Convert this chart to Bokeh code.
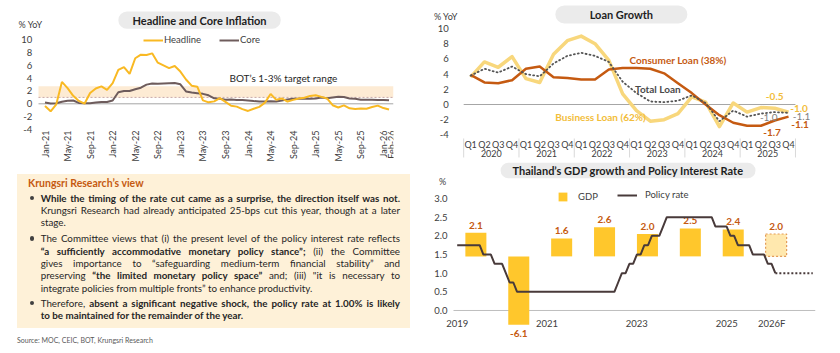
import math
from bokeh.plotting import figure
from bokeh.models import (Range1d, BoxAnnotation, Legend, LegendItem, Div)
from bokeh.layouts import row, column
from bokeh.core.properties import value
from bokeh.embed import file_html
from bokeh.resources import INLINE

FONT = "Lato"
TXT = "#404040"

# ---------------- data: headline & core inflation (% YoY, monthly Jan-21 .. Feb-26)
headline = [-0.34, -1.17, -0.08, 3.41, 2.44, 1.25, 0.45, 0.02, 1.68, 2.38, 2.71, 2.17,
            3.23, 5.28, 5.73, 4.65, 7.10, 7.66, 7.61, 7.86, 6.41, 5.98, 5.55, 5.89,
            5.02, 3.79, 2.83, 2.67, 0.53, 0.23, 0.38, 0.88, 0.30, -0.31, -0.44, -0.83,
            -1.11, -0.77, -0.47, 0.19, 1.54, 0.62, 0.83, 0.35, 0.61, 0.83, 0.95, 1.23,
            1.32, 1.08, 0.84, -0.22, -0.57, -0.25, -0.70, -0.79, -0.72, -0.76, -0.49, -0.28,
            -0.66, -0.90]
core = [0.21, 0.04, 0.08, 0.31, 0.49, 0.52, 0.14, 0.07, 0.10, 0.21, 0.29, 0.29,
        0.52, 1.80, 2.00, 2.00, 2.28, 2.51, 2.99, 3.15, 3.12, 3.17, 3.22, 3.23,
        3.04, 1.93, 1.75, 1.66, 1.55, 1.32, 0.86, 0.79, 0.63, 0.66, 0.58, 0.58,
        0.52, 0.43, 0.37, 0.37, 0.39, 0.36, 0.52, 0.69, 0.77, 0.77, 0.80, 0.79,
        0.83, 0.99, 0.86, 0.98, 1.09, 1.06, 0.84, 0.79, 0.62, 0.63, 0.65, 0.60,
        0.60, 0.55]
infl_tick_pos = [0, 4, 8, 12, 16, 20, 24, 28, 32, 36, 40, 44, 48, 52, 56, 60, 61]
infl_tick_labels = ["Jan-21", "May-21", "Sep-21", "Jan-22", "May-22", "Sep-22", "Jan-23",
                    "May-23", "Sep-23", "Jan-24", "May-24", "Sep-24", "Jan-25", "May-25",
                    "Sep-25", "Jan-26", "Feb-26"]
infl_y_ticks = [-4, -2, 0, 2, 4, 6, 8, 10]
target_low = 1.0
target_high = 2.75

# ---------------- data: loan growth (% YoY, quarterly Q1-2020 .. Q4-2025)
loan_quarters = ["Q1", "Q2", "Q3", "Q4", "Q1", "Q2", "Q3", "Q4", "Q1", "Q2", "Q3", "Q4",
                 "Q1", "Q2", "Q3", "Q4", "Q1", "Q2", "Q3", "Q4", "Q1", "Q2", "Q3", "Q4"]
loan_years = ["2020", "2021", "2022", "2023", "2024", "2025"]
business_loan = [3.6, 5.6, 4.9, 6.3, 3.4, 2.9, 6.6, 8.4, 9.0, 8.0, 5.8, 1.4,
                 -0.8, -2.2, -2.0, -1.2, 1.0, 0.3, -2.9, 0.2, -1.0, -0.4, -0.5, -1.0]
consumer_loan = [3.9, 2.9, 2.8, 3.2, 4.7, 5.0, 3.6, 3.5, 3.3, 3.3, 4.6, 4.8,
                 4.8, 4.7, 4.1, 2.8, 1.5, 0.0, -1.4, -2.4, -2.8, -2.8, -2.1, -1.6]
total_loan = [3.8, 4.7, 4.2, 5.0, 4.0, 3.7, 5.4, 6.4, 6.8, 6.4, 5.6, 3.0,
              1.5, 0.4, 0.3, 0.5, 1.2, 0.2, -2.2, -0.8, -1.6, -1.2, -1.0, -1.1]
loan_y_ticks = [-4, -2, 0, 2, 4, 6, 8, 10]

# ---------------- data: GDP growth (annual) and policy rate (monthly Jan-2019 ..)
gdp_years = ["2019", "2020", "2021", "2022", "2023", "2024", "2025", "2026F"]
gdp_growth = [2.1, -6.1, 1.6, 2.6, 2.0, 2.5, 2.4, 2.0]
gdp_is_forecast = [False, False, False, False, False, False, False, True]
policy_rate = [1.75, 1.75, 1.75, 1.75, 1.75, 1.75, 1.75, 1.50, 1.50, 1.50, 1.25, 1.25,
               1.25, 1.00, 0.75, 0.75, 0.50, 0.50, 0.50, 0.50, 0.50, 0.50, 0.50, 0.50,
               0.50, 0.50, 0.50, 0.50, 0.50, 0.50, 0.50, 0.50, 0.50, 0.50, 0.50, 0.50,
               0.50, 0.50, 0.50, 0.50, 0.50, 0.50, 0.50, 0.75, 1.00, 1.00, 1.25, 1.25,
               1.50, 1.50, 1.75, 1.75, 2.00, 2.00, 2.00, 2.25, 2.50, 2.50, 2.50, 2.50,
               2.50, 2.50, 2.50, 2.50, 2.50, 2.50, 2.50, 2.50, 2.50, 2.25, 2.25, 2.25,
               2.25, 2.00, 2.00, 1.75, 1.75, 1.75, 1.75, 1.50, 1.50, 1.50, 1.50, 1.25,
               1.25, 1.00]
policy_rate_forecast = [1.00, 1.00, 1.00, 1.00, 1.00, 1.00, 1.00, 1.00, 1.00, 1.00, 1.00]
gdp_axis_labels = ["2019", "2021", "2023", "2025", "2026F"]
gdp_axis_month = [0, 24, 48, 72, 84]
rate_y_ticks = [0.0, 0.5, 1.0, 1.5, 2.0, 2.5, 3.0]

# ---------------- colours
C_HEAD = "#F9B923"
C_CORE = "#6E5C5C"
C_BAND = "#FDEBD4"
C_BUS = "#F8D77C"
C_BUS_TXT = "#F2BD3A"
C_CONS = "#C55A11"
C_TOT = "#555555"
C_GDP = "#FFC72C"
C_RATE = "#483A3A"
C_PILL = "#EBEBEB"


def base_fig(w, h, xr, yr, right, top):
    p = figure(width=w, height=h, x_range=Range1d(*xr), y_range=Range1d(*yr),
               output_backend="svg", toolbar_location=None, title=None,
               min_border_left=0, min_border_right=right,
               min_border_top=top, min_border_bottom=0,
               x_axis_location=None, y_axis_location=None,
               outline_line_color=None, background_fill_color="white",
               border_fill_color="white")
    p.grid.visible = False
    return p


def y_tick_labels(p, x, ticks, labels, dx):
    p.text(x=[x] * len(ticks), y=ticks, text=labels, x_offset=dx, text_align="right",
           text_baseline="middle", text_font=value(FONT), text_font_size="9.5px",
           text_color=TXT)


def pill(p, x0, x1, y0, y1, text, size):
    p.quad(left=[x0], right=[x1], bottom=[y0], top=[y1], fill_color=C_PILL,
           line_color=None, border_radius=9)
    p.text(x=[(x0 + x1) / 2], y=[(y0 + y1) / 2], text=[text], text_align="center",
           text_baseline="middle", text_font=value(FONT), text_font_style="bold",
           text_font_size=size, text_color="#1E1E1E")


def free_text(p, x, y, text, color, size="9.5px", bold=False, align="left", **kw):
    p.text(x=[x], y=[y], text=[text], text_align=align, text_baseline="middle",
           text_font=value(FONT), text_font_style="bold" if bold else "normal",
           text_font_size=size, text_color=color, **kw)


# =============== 1. Headline and core inflation ===============
months = list(range(len(headline)))
infl_x0 = -1.152          # left edge of the plotting area (data units)
p1 = base_fig(420, 172, (-7.89, 61.79), (-10.7, 15.47), 27, 4)

p1.add_layout(BoxAnnotation(left=infl_x0, bottom=target_low, top=target_high,
                            fill_color=C_BAND, fill_alpha=1, line_color=None,
                            level="underlay"))
p1.segment(x0=[infl_x0], x1=[p1.x_range.end], y0=[0], y1=[0], line_color="#A6A6A6",
           line_width=1)
p1.segment(x0=[infl_x0], x1=[p1.x_range.end], y0=[target_low], y1=[target_low],
           line_color="#C8A8A8", line_width=1, line_dash="2 2")
r_core = p1.line(months, core, line_color=C_CORE, line_width=2)
r_head = p1.line(months, headline, line_color=C_HEAD, line_width=2)
y_tick_labels(p1, infl_x0, infl_y_ticks, [str(t) for t in infl_y_ticks], -6.3)
# rotated month labels; a label that directly follows its neighbour is nudged right
lab_dx = [0] + [2.5 if b - a == 1 else 0 for a, b in zip(infl_tick_pos, infl_tick_pos[1:])]
p1.text(x=infl_tick_pos, y=[-4.16] * len(infl_tick_pos), text=infl_tick_labels,
        x_offset=lab_dx, angle=math.pi / 2, text_align="right", text_baseline="middle",
        text_font=value(FONT), text_font_size="9px", text_color=TXT)
pill(p1, 13.0, 41.8, 11.68, 14.38, "Headline and Core Inflation", "11px")
free_text(p1, 32.7, 4.05, "BOT\u2019s 1-3% target range", "#262626", "10px")
free_text(p1, infl_x0, 12.35, "% YoY", TXT, "9px", x_offset=-20)
leg1 = Legend(items=[LegendItem(label="Headline", renderers=[r_head]),
                     LegendItem(label="Core", renderers=[r_core])],
              orientation="horizontal", location=(143, 127), glyph_width=20,
              glyph_height=10, label_height=10, label_standoff=1, spacing=18,
              padding=0, margin=0, border_line_color=None, background_fill_alpha=0,
              label_text_font=FONT, label_text_font_size="9.5px", label_text_color=TXT)
p1.add_layout(leg1)

# =============== 2. Text box ===============
def line(html, last=False):
    al = "left" if last else "justify"
    return (f'<div style="text-align:justify;text-align-last:{al};white-space:normal;">'
            f'{html}</div>')


def para(top, lines):
    body = "".join(line(t, i == len(lines) - 1) for i, t in enumerate(lines))
    return (f'<div style="position:absolute;left:29.5px;top:{top + 4.2}px;width:4.5px;'
            f'height:4.5px;border-radius:50%;background:#404040;"></div>'
            f'<div style="position:absolute;left:40.7px;top:{top}px;width:359.3px;'
            f'font-size:9.8px;line-height:12.4px;">{body}</div>')


p1_lines = ["<b>While the timing of the rate cut came as a surprise, the direction itself was not.</b>",
            "Krungsri Research had already anticipated 25-bps cut this year, though at a later",
            "stage."]
p2_lines = ["The Committee views that (i) the present level of the policy interest rate reflects",
            "<b>\u201ca sufficiently accommodative monetary policy stance\u201d;</b> (ii) the Committee",
            "gives importance to \u201csafeguarding medium-term financial stability\u201d and",
            "preserving <b>\u201cthe limited monetary policy space\u201d</b> and; (iii) \"it is necessary to",
            "integrate policies from multiple fronts\u201d to enhance productivity."]
p3_lines = ["Therefore, <b>absent a significant negative shock, the policy rate at 1.00% is likely</b>",
            "<b>to be maintained for the remainder of the year.</b>"]

html = ('<div style="position:relative;width:420px;height:181px;font-family:Lato,sans-serif;'
        'color:#262626;">'
        '<div style="position:absolute;left:17px;top:2px;width:393px;height:154px;'
        'background:#FEF1D8;"></div>'
        '<div style="position:absolute;left:28px;top:4.5px;font-size:10.5px;line-height:12.4px;'
        'font-weight:bold;color:#C55A11;">Krungsri Research\u2019s view</div>'
        + para(19.5, p1_lines) + para(60.1, p2_lines) + para(124.5, p3_lines) +
        '<div style="position:absolute;left:17px;top:163.5px;font-size:7px;line-height:9px;'
        'color:#595959;">Source: MOC, CEIC, BOT, Krungsri Research</div>'
        '</div>')
box = Div(text=html, width=420, height=181, margin=0)

# =============== 3. Loan growth ===============
qx = list(range(len(business_loan)))
p2 = base_fig(420, 158, (-3.624, 24.95), (-7.105, 13.684), 10, 0)
loan_x0 = -0.5
p2.segment(x0=[loan_x0], x1=[len(qx) - 0.5], y0=[0], y1=[0], line_color="#A6A6A6",
           line_width=1)
p2.line(qx, business_loan, line_color=C_BUS, line_width=3.5, line_join="round")
p2.line(qx, consumer_loan, line_color=C_CONS, line_width=2.5, line_join="round")
p2.line(qx, total_loan, line_color=C_TOT, line_width=1.8, line_dash="1 3", line_cap="round")
y_tick_labels(p2, loan_x0, loan_y_ticks, [str(t) for t in loan_y_ticks], -15)
p2.text(x=qx, y=[-5.26] * len(qx), text=loan_quarters, text_align="center",
        text_baseline="middle", text_font=value(FONT), text_font_size="9px", text_color=TXT)
yx = [4 * k + 1.5 for k in range(len(loan_years))]
p2.text(x=yx, y=[-6.45] * len(yx), text=loan_years, text_align="center",
        text_baseline="middle", text_font=value(FONT), text_font_size="9px", text_color=TXT)
sx = [4 * k - 0.5 for k in range(len(loan_years) + 1)]
p2.segment(x0=sx, x1=sx, y0=[-4.47] * len(sx), y1=[-6.97] * len(sx), line_color="#D9D9D9",
           line_width=1)
pill(p2, 6.13, 15.68, 10.66, 13.03, "Loan Growth", "11px")
free_text(p2, loan_x0, 11.58, "% YoY", TXT, "9px", x_offset=-29.8)
free_text(p2, 11.5, 5.9, "Consumer Loan (38%)", C_CONS, "10px", True)
free_text(p2, 11.9, 2.1, "Total Loan", "#4A4A4A", "10px", True)
free_text(p2, 6.13, -1.7, "Business Loan (62%)", C_BUS_TXT, "10px", True)
n = len(qx) - 1
vlab = [(n - 1, business_loan[n - 1], 0, -12, C_BUS_TXT, True),
        (n, business_loan[n], 10.5, -3.5, C_BUS_TXT, True),
        (n - 1, total_loan[n - 1], -6, 5, "#7F7F7F", False),
        (n, total_loan[n], 13, 3.3, "#7F7F7F", False),
        (n - 1, consumer_loan[n - 1], -2.7, 11.7, C_CONS, True),
        (n, consumer_loan[n], 11.5, 7.8, C_CONS, True)]
lab_text = ["-0.5", "-1.0", "-1.0", "-1.1", "-1.7", "-1.1"]
for (xi, yv, dx, dy, col, b), t in zip(vlab, lab_text):
    p2.text(x=[xi], y=[yv], text=[t], x_offset=dx, y_offset=dy, text_align="center",
            text_baseline="middle", text_font=value(FONT),
            text_font_style="bold" if b else "normal", text_font_size="10px",
            text_color=col)

# =============== 4. GDP growth and policy rate ===============
p3 = base_fig(420, 195, (-9.805, 95.73), (-1.152, 4.072), 25, 0)
gdp_x0 = -0.99
p3.extra_x_ranges = {"bars": Range1d(-1.291, 7.918)}
p3.extra_y_ranges = {"gdp": Range1d(-8.673, 8.74)}
p3.segment(x0=[gdp_x0], x1=[p3.x_range.end], y0=[0], y1=[0], line_color="#BFBFBF",
           line_width=1)
bi = list(range(len(gdp_growth)))
act_i = [i for i in bi if not gdp_is_forecast[i]]
fc_i = [i for i in bi if gdp_is_forecast[i]]
r_gdp = p3.vbar(x=act_i, top=[gdp_growth[i] for i in act_i], bottom=0, width=0.49,
                fill_color=C_GDP, line_color=None, x_range_name="bars", y_range_name="gdp")
p3.vbar(x=fc_i, top=[gdp_growth[i] for i in fc_i], bottom=0, width=0.49,
        fill_color="#FFE8AE", line_color="#E39B57", line_dash="2 2", line_width=1.2,
        x_range_name="bars", y_range_name="gdp")
pos_i = [i for i in bi if gdp_growth[i] >= 0]
neg_i = [i for i in bi if gdp_growth[i] < 0]
p3.text(x=pos_i, y=[gdp_growth[i] for i in pos_i],
        text=[f"{gdp_growth[i]:.1f}" for i in pos_i], x_range_name="bars",
        y_range_name="gdp", text_align="center", text_baseline="bottom", y_offset=-4,
        text_font=value(FONT), text_font_style="bold", text_font_size="10px",
        text_color=C_CONS)
p3.text(x=neg_i, y=[gdp_growth[i] for i in neg_i],
        text=[f"{gdp_growth[i]:.1f}" for i in neg_i], x_range_name="bars",
        y_range_name="gdp", text_align="center", text_baseline="top", y_offset=5,
        text_font=value(FONT), text_font_style="bold", text_font_size="10px",
        text_color=C_CONS)
rm = list(range(len(policy_rate)))
r_rate = p3.line(rm, policy_rate, line_color=C_RATE, line_width=2)
fm = list(range(len(policy_rate) - 1, len(policy_rate) - 1 + len(policy_rate_forecast)))
p3.line(fm, policy_rate_forecast, line_color=C_RATE, line_width=2, line_dash="2 2")
y_tick_labels(p3, gdp_x0, rate_y_ticks, [f"{t:.1f}" for t in rate_y_ticks], -6)
p3.text(x=gdp_axis_month, y=[-0.35] * len(gdp_axis_month), text=gdp_axis_labels,
        text_align="center", text_baseline="middle", text_font=value(FONT),
        text_font_size="9.5px", text_color=TXT)
pill(p3, 11.6, 79.7, 3.54, 3.96, "Thailand\u2019s GDP growth and Policy Interest Rate", "11px")
free_text(p3, gdp_x0, 3.456, "%", TXT, "9px", align="center", x_offset=-11)
leg_g = Legend(items=[LegendItem(label="GDP", renderers=[r_gdp])], location=(137, 151.5),
               glyph_width=11, glyph_height=11, label_height=11, label_standoff=10,
               padding=0, margin=0, border_line_color=None, background_fill_alpha=0,
               label_text_font=FONT, label_text_font_size="9.5px", label_text_color=TXT)
leg_r = Legend(items=[LegendItem(label="Policy rate", renderers=[r_rate])],
               location=(197, 153), glyph_width=20, glyph_height=10, label_height=10,
               label_standoff=8, padding=0, margin=0, border_line_color=None,
               background_fill_alpha=0, label_text_font=FONT,
               label_text_font_size="9.5px", label_text_color=TXT)
p3.add_layout(leg_g)
p3.add_layout(leg_r)

layout = row(column(p1, box, spacing=0), column(p2, p3, spacing=0), spacing=0)
open("out.html", "w").write(file_html(layout, INLINE))
